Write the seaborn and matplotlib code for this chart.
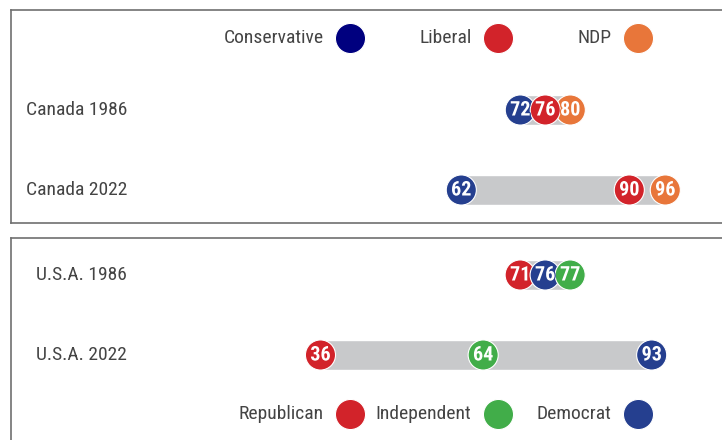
import numpy as np
import pandas as pd
import matplotlib
matplotlib.use('Agg')
import matplotlib.pyplot as plt
import matplotlib.patheffects as pe
from matplotlib import font_manager
import seaborn as sns

# data
canada_parties = ['Conservative', 'Liberal', 'NDP']
canada_colors = ['#253f8f', '#d2232a', '#e8763a']
canada_legend_colors = ['#00007f', '#d2232a', '#e8763a']
canada_years = ['Canada 1986', 'Canada 2022']
canada_1986 = [72, 76, 80]
canada_2022 = [62, 90, 96]
canada_order = ['Conservative', 'NDP', 'Liberal']

usa_parties = ['Republican', 'Independent', 'Democrat']
usa_colors = ['#d2232a', '#41ad49', '#253f8f']
usa_years = ['U.S.A. 1986', 'U.S.A. 2022']
usa_1986 = [71, 77, 76]
usa_2022 = [36, 64, 93]
usa_order = ['Republican', 'Democrat', 'Independent']

BAR_GRAY = '#c8c9cb'
TEXT_GRAY = '#444444'
W, H = 722, 440

sns.set_style('white')
names = {f.name for f in font_manager.fontManager.ttflist}
cond = next((n for n in ['Liberation Sans Narrow', 'Roboto Condensed', 'Open Sans Condensed']
             if n in names), 'DejaVu Sans')
stretch = 'condensed' if cond == 'DejaVu Sans' else 'normal'
plt.rcParams['font.family'] = [cond, 'DejaVu Sans']
plt.rcParams['font.stretch'] = stretch


def spread(vals, gap):
    # push apart markers that sit closer than gap (data units)
    order = np.argsort(vals)
    pos = np.array(vals, float)[order]
    for _ in range(100):
        moved = False
        for i in range(1, len(pos)):
            d = pos[i] - pos[i - 1]
            if d < gap - 1e-6:
                shift = (gap - d) / 2
                pos[i - 1] -= shift
                pos[i] += shift
                moved = True
        if not moved:
            break
    out = np.empty_like(pos)
    out[order] = pos
    return out


def draw_panel(ax, years, parties, colors, legend_colors, rows, order,
               xlim, ylim, legend_y, label_x):
    ax.set_xlim(*xlim)
    ax.set_ylim(*ylim)
    bbox = ax.get_position()
    px_per_unit = bbox.width * W / (xlim[1] - xlim[0])
    gap = 25 / px_per_unit

    recs = []
    for r, vals in enumerate(rows):
        pos = spread(vals, gap)
        ax.barh(r, pos.max() - pos.min(), left=pos.min(), height=30 / 80,
                color=BAR_GRAY, zorder=1)
        for p, v, party in zip(pos, vals, parties):
            recs.append({'row': r, 'x': p, 'value': v, 'party': party})
    df = pd.DataFrame(recs)
    df['rank'] = df['party'].map({p: i for i, p in enumerate(order)})
    df = df.sort_values(['rank', 'row'])
    pal = dict(zip(parties, colors))
    sns.scatterplot(data=df, x='x', y='row', hue='party', palette=pal, s=470,
                    edgecolor='white', linewidth=0.8, legend=False, zorder=3, ax=ax)
    for _, rw in df.iterrows():
        ax.text(rw['x'], rw['row'], str(rw['value']), ha='center', va='center',
                color='white', fontsize=14.5, fontweight='bold', zorder=4,
                path_effects=[pe.withStroke(linewidth=1.6, foreground=pal[rw['party']])])

    for r, lab in enumerate(years):
        ax.text(label_x, r, lab, transform=ax.get_yaxis_transform(),
                ha='left', va='center', fontsize=14, color=TEXT_GRAY)

    # legend: circles on fixed columns, names right-aligned to them
    for cx, party, col in zip([350, 498, 638], parties, legend_colors):
        fx = (cx - bbox.x0 * W) / (bbox.width * W)
        ax.scatter([fx], [legend_y], s=470, color=col, edgecolor='white',
                   linewidth=0.8, transform=ax.transAxes, clip_on=False, zorder=3)
        ax.annotate(party, (fx, legend_y), xycoords='axes fraction',
                    xytext=(-19, 0), textcoords='offset points',
                    ha='right', va='center', fontsize=14, color=TEXT_GRAY)

    ax.set_xlabel('')
    ax.set_ylabel('')
    ax.set_xticks([])
    ax.set_yticks([])
    for s in ax.spines.values():
        s.set_color('#707070')
        s.set_linewidth(1.2)


fig = plt.figure(figsize=(W / 100, H / 100), dpi=100)
left, right = 11, 740
ax1 = fig.add_axes([left / W, 1 - 222.7 / H, (right - left) / W, (222.7 - 10) / H])
ax2 = fig.add_axes([left / W, 1 - 460 / H, (right - left) / W, (460 - 237.7) / H])

draw_panel(ax1, canada_years, canada_parties, canada_colors, canada_legend_colors,
           [canada_1986, canada_2022], canada_order,
           xlim=(-13.05, 108.45), ylim=((222.7 - 110) / 80, (10 - 110) / 80),
           legend_y=(222.7 - 38) / (222.7 - 10), label_x=(26 - left) / (right - left))
draw_panel(ax2, usa_years, usa_parties, usa_colors, usa_colors,
           [usa_1986, usa_2022], usa_order,
           xlim=(-17.26, 108.2), ylim=((460 - 275) / 80, (237.7 - 275) / 80),
           legend_y=(460 - 414) / (460 - 237.7), label_x=(36 - left) / (right - left))

fig.savefig('out.png', dpi=100)
